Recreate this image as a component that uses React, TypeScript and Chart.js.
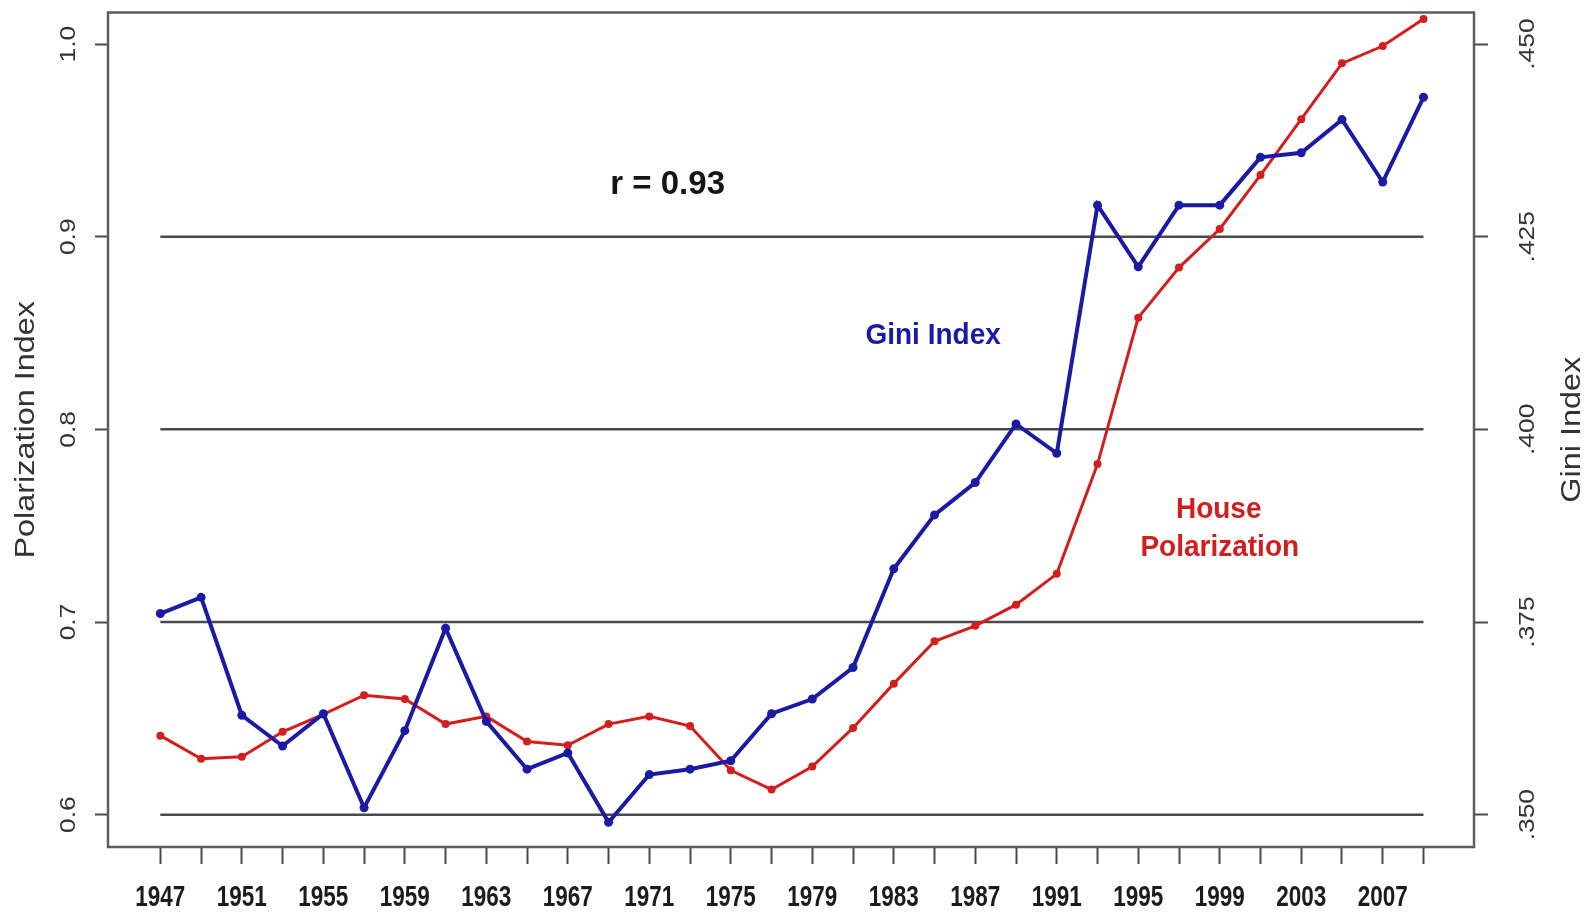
import React, { useEffect, useRef } from "react";
import { Chart, registerables } from "chart.js";

Chart.register(...registerables);

// ---------- data ----------
const years = [
  1947, 1949, 1951, 1953, 1955, 1957, 1959, 1961, 1963, 1965, 1967, 1969, 1971, 1973, 1975, 1977,
  1979, 1981, 1983, 1985, 1987, 1989, 1991, 1993, 1995, 1997, 1999, 2001, 2003, 2005, 2007, 2009,
];
const housePolarization = [
  0.641, 0.629, 0.63, 0.643, 0.652, 0.662, 0.66, 0.647, 0.651, 0.638, 0.636, 0.647, 0.651, 0.646, 0.623, 0.613,
  0.625, 0.645, 0.668, 0.69, 0.698, 0.709, 0.725, 0.782, 0.858, 0.884, 0.904, 0.932, 0.961, 0.99, 0.999, 1.013,
];
const giniIndex = [
  0.3761, 0.3782, 0.3629, 0.3589, 0.3631, 0.3509, 0.3609, 0.3742, 0.3621, 0.3559, 0.358, 0.349, 0.3552, 0.3559, 0.357, 0.3631,
  0.365, 0.3691, 0.3819, 0.3889, 0.3931, 0.4007, 0.3969, 0.4291, 0.4211, 0.4291, 0.4291, 0.4353, 0.4359, 0.4402, 0.4321, 0.4431,
];
const yearLabels = [1947, 1951, 1955, 1959, 1963, 1967, 1971, 1975, 1979, 1983, 1987, 1991, 1995, 1999, 2003, 2007];
const leftTicks = [0.6, 0.7, 0.8, 0.9, 1.0];
const leftTickLabels = ["0.6", "0.7", "0.8", "0.9", "1.0"];
const rightTicks = [0.35, 0.375, 0.4, 0.425, 0.45];
const rightTickLabels = [".350", ".375", ".400", ".425", ".450"];
const refLines = [0.6, 0.7, 0.8, 0.9];

// annotations: text, year, polarization value
const corrText = { text: "r = 0.93", x: 1971.9, y: 0.9269 };
const giniText = { text: "Gini Index", x: 1984.93, y: 0.8487 };
const houseText = [
  { text: "House", x: 1998.95, y: 0.7581 },
  { text: "Polarization", x: 1999.0, y: 0.7385 },
];

// axis ranges (left polarization, right Gini share the same pixel grid)
const yMin = 0.5832;
const yMax = 1.0164;
const y2Min = 0.35 + (yMin - 0.6) / 4;
const y2Max = 0.35 + (yMax - 0.6) / 4;
const xMin = 1944.43;
const xMax = 2011.48;

const BLUE = "#1a1aa4";
const RED = "#d41e1e";
const GRAY = "#4a4a4a";
const FONT = "'Liberation Sans', Arial, Helvetica, sans-serif";

function drawText(
  ctx: CanvasRenderingContext2D,
  text: string,
  x: number,
  y: number,
  font: string,
  color: string,
  rot = 0,
  sy = 1
) {
  ctx.save();
  ctx.translate(x, y);
  ctx.scale(1, sy);
  ctx.rotate(rot);
  ctx.font = font;
  ctx.fillStyle = color;
  ctx.textAlign = "center";
  ctx.textBaseline = "middle";
  ctx.fillText(text, 0, 0);
  ctx.restore();
}

const decorPlugin = {
  id: "decor",
  beforeDatasetsDraw(chart: any) {
    const { ctx, scales } = chart;
    const xs = scales.x;
    const ys = scales.y;
    ctx.save();
    ctx.strokeStyle = GRAY;
    ctx.lineWidth = 2.5;
    const x0 = xs.getPixelForValue(years[0]);
    const x1 = xs.getPixelForValue(years[years.length - 1]);
    refLines.forEach((v) => {
      const py = ys.getPixelForValue(v);
      ctx.beginPath();
      ctx.moveTo(x0, py);
      ctx.lineTo(x1, py);
      ctx.stroke();
    });
    ctx.restore();
  },
  afterDraw(chart: any) {
    const { ctx, scales, chartArea } = chart;
    const xs = scales.x;
    const ys = scales.y;
    const ys2 = scales.y2;
    // box
    ctx.save();
    ctx.strokeStyle = "#5c5c5c";
    ctx.lineWidth = 2.5;
    ctx.strokeRect(chartArea.left, chartArea.top, chartArea.right - chartArea.left, chartArea.bottom - chartArea.top);
    ctx.restore();

    // x labels
    yearLabels.forEach((yr) => {
      drawText(ctx, String(yr), xs.getPixelForValue(yr), chartArea.bottom + 51, `bold 22.5px ${FONT}`, "#1c1c1c", 0, 1.35);
    });
    // left tick labels
    leftTicks.forEach((v, i) => {
      drawText(ctx, leftTickLabels[i], 61, ys.getPixelForValue(v), `22px ${FONT}`, "#333", -Math.PI / 2, 1.2);
    });
    // right tick labels
    rightTicks.forEach((v, i) => {
      drawText(ctx, rightTickLabels[i], chartArea.right + 54, ys2.getPixelForValue(v), `22px ${FONT}`, "#333", -Math.PI / 2, 1.2);
    });
    // axis titles
    const midY = (chartArea.top + chartArea.bottom) / 2;
    drawText(ctx, "Polarization Index", 19, midY, `27px ${FONT}`, "#333", -Math.PI / 2, 1.2);
    drawText(ctx, "Gini Index", chartArea.right + 99, midY, `27px ${FONT}`, "#333", -Math.PI / 2, 1.2);

    // annotations
    drawText(ctx, corrText.text, xs.getPixelForValue(corrText.x), ys.getPixelForValue(corrText.y), `bold 33px ${FONT}`, "#151515", 0, 1.0);
    drawText(ctx, giniText.text, xs.getPixelForValue(giniText.x), ys.getPixelForValue(giniText.y), `bold 28px ${FONT}`, BLUE, 0, 1.08);
    houseText.forEach((t) => {
      drawText(ctx, t.text, xs.getPixelForValue(t.x), ys.getPixelForValue(t.y), `bold 28px ${FONT}`, RED, 0, 1.08);
    });
  },
};

export default function App() {
  const canvasRef = useRef<HTMLCanvasElement | null>(null);

  useEffect(() => {
    if (!canvasRef.current) return;
    const chart = new Chart(canvasRef.current, {
      type: "line",
      data: {
        datasets: [
          {
            label: "Gini Index",
            data: years.map((yr, i) => ({ x: yr, y: giniIndex[i] })),
            yAxisID: "y2",
            borderColor: BLUE,
            backgroundColor: BLUE,
            borderWidth: 4,
            pointRadius: 4.5,
            pointBorderWidth: 0,
            pointBackgroundColor: BLUE,
            tension: 0,
          },
          {
            label: "House Polarization",
            data: years.map((yr, i) => ({ x: yr, y: housePolarization[i] })),
            yAxisID: "y",
            borderColor: RED,
            backgroundColor: RED,
            borderWidth: 3,
            pointRadius: 4,
            pointBorderWidth: 0,
            pointBackgroundColor: RED,
            tension: 0,
          },
        ],
      },
      options: {
        responsive: false,
        animation: false,
        layout: { padding: { top: 2, left: 0, right: 0, bottom: 0 } },
        plugins: {
          legend: { display: false },
          tooltip: { enabled: false },
          title: { display: false },
        },
        scales: {
          x: {
            type: "linear",
            min: xMin,
            max: xMax,
            border: { display: false },
            grid: {
              display: true,
              drawOnChartArea: false,
              drawTicks: true,
              tickLength: 17,
              tickColor: GRAY,
              tickWidth: 2,
              color: GRAY,
            },
            ticks: { display: false, autoSkip: false },
            afterBuildTicks: (s: any) => {
              s.ticks = years.map((v) => ({ value: v }));
            },
            afterFit: (s: any) => {
              s.height = 61;
            },
          },
          y: {
            type: "linear",
            position: "left",
            min: yMin,
            max: yMax,
            border: { display: false },
            grid: {
              display: true,
              drawOnChartArea: false,
              drawTicks: true,
              tickLength: 13,
              tickColor: GRAY,
              tickWidth: 2,
              color: GRAY,
            },
            ticks: { display: false, autoSkip: false },
            afterBuildTicks: (s: any) => {
              s.ticks = leftTicks.map((v) => ({ value: v }));
            },
            afterFit: (s: any) => {
              s.width = 100;
            },
          },
          y2: {
            type: "linear",
            position: "right",
            min: y2Min,
            max: y2Max,
            border: { display: false },
            grid: {
              display: true,
              drawOnChartArea: false,
              drawTicks: true,
              tickLength: 14,
              tickColor: GRAY,
              tickWidth: 2,
              color: GRAY,
            },
            ticks: { display: false, autoSkip: false },
            afterBuildTicks: (s: any) => {
              s.ticks = rightTicks.map((v) => ({ value: v }));
            },
            afterFit: (s: any) => {
              s.width = 108;
            },
          },
        },
      },
      plugins: [decorPlugin],
    } as any);
    return () => chart.destroy();
  }, []);

  return (
    <div style={{ width: 1574, height: 900 }}>
      <canvas ref={canvasRef} width={1574} height={900} style={{ display: "block" }} />
    </div>
  );
}
